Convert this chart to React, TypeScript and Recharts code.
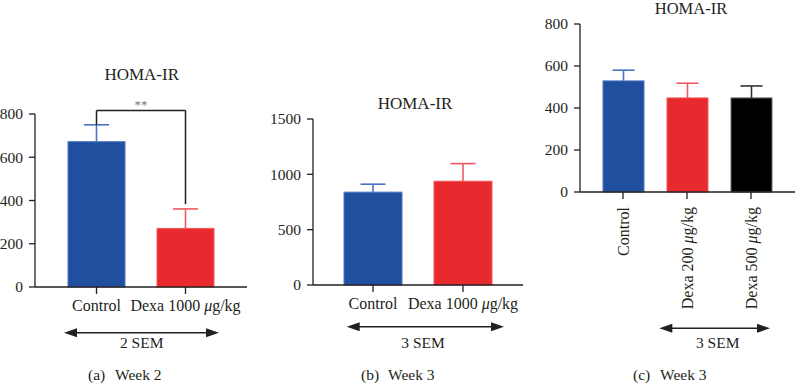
import React from 'react';
import { BarChart, Bar, XAxis, YAxis, ReferenceLine } from 'recharts';

const FONT = '"Liberation Serif", "Times New Roman", serif';

// ---- data ----
const weekTwoGroups = ['Control', 'Dexa 1000 μg/kg'];
const weekTwoMeans = [672, 271];
const weekTwoSem = [78, 90];
const weekTwoTicks = [0, 200, 400, 600, 800];

const weekThreeGroups = ['Control', 'Dexa 1000 μg/kg'];
const weekThreeMeans = [839, 938];
const weekThreeSem = [72, 159];
const weekThreeTicks = [0, 500, 1000, 1500];

const doseGroups = ['Control', 'Dexa 200 μg/kg', 'Dexa 500 μg/kg'];
const doseMeans = [529, 448, 448];
const doseSem = [51, 70, 57];
const doseTicks = [0, 200, 400, 600, 800];

const titleText = 'HOMA-IR';
const captions = [
  { tag: '(a)', text: 'Week 2' },
  { tag: '(b)', text: 'Week 3' },
  { tag: '(c)', text: 'Week 3' },
];
const semLabels = ['2 SEM', '3 SEM', '3 SEM'];

const significance = { from: 'Control', to: 'Dexa 1000 μg/kg', level: 816, leftEnd: 750, rightEnd: 383, label: '**' };

// ---- styles ----
const fills = ['#214f9f', '#e8292d', '#000000'];
const edges = ['#4f76c2', '#f05a5e', '#6a6a6a'];
const errColors = ['#4a74c4', '#ef5a5e', '#333333'];
const INK = '#231f20';

const rows = (groups: string[], means: number[], sem: number[]) =>
  groups.map((g, i) => ({ group: g, mean: means[i], sem: sem[i] }));

const weekTwoRows = rows(weekTwoGroups, weekTwoMeans, weekTwoSem);
const weekThreeRows = rows(weekThreeGroups, weekThreeMeans, weekThreeSem);
const doseRows = rows(doseGroups, doseMeans, doseSem);

function makeShape(capHalf: number) {
  return (props: any) => {
    const { x, y, width, height, index, payload } = props;
    const pxPerUnit = height / payload.mean;
    const top = y - payload.sem * pxPerUnit;
    const cx = x + width / 2;
    return (
      <g>
        <rect x={x} y={y} width={width} height={height} fill={fills[index]} stroke={edges[index]} strokeWidth={1} />
        <line x1={cx} y1={y} x2={cx} y2={top} stroke={errColors[index]} strokeWidth={1.6} />
        <line x1={cx - capHalf} y1={top} x2={cx + capHalf} y2={top} stroke={errColors[index]} strokeWidth={1.6} />
      </g>
    );
  };
}

function label(s: string) {
  const i = s.indexOf('μ');
  if (i < 0) return s;
  return (
    <>
      {s.slice(0, i)}
      <tspan fontStyle="italic">μ</tspan>
      {s.slice(i + 1)}
    </>
  );
}

const FlatTick = (props: any) => {
  const { x, y, payload } = props;
  return (
    <text x={x} y={y} dy="0.71em" textAnchor="middle" fontFamily={FONT} fontSize={16} fill={INK}>
      {label(payload.value)}
    </text>
  );
};

const RotTick = (props: any) => {
  const { x, y, payload } = props;
  return (
    <text x={x} y={y} dy="0.35em" textAnchor="end" transform={`rotate(-90 ${x} ${y})`} fontFamily={FONT} fontSize={16} fill={INK}>
      {label(payload.value)}
    </text>
  );
};

const ValueTick = (props: any) => {
  const { x, y, payload } = props;
  return (
    <text x={x} y={y} dy="0.35em" textAnchor="end" fontFamily={FONT} fontSize={15.5} fill={INK}>
      {payload.value}
    </text>
  );
};

const axisStroke = { stroke: INK, strokeWidth: 1.3 };

function Arrow({ x1, x2, y }: { x1: number; x2: number; y: number }) {
  const L = 13;
  const H = 4.5;
  return (
    <g>
      <line x1={x1 + L - 1} y1={y} x2={x2 - L + 1} y2={y} stroke={INK} strokeWidth={1.5} />
      <polygon points={`${x1},${y} ${x1 + L},${y - H} ${x1 + L},${y + H}`} fill={INK} />
      <polygon points={`${x2},${y} ${x2 - L},${y - H} ${x2 - L},${y + H}`} fill={INK} />
    </g>
  );
}

export default function App() {
  return (
    <div style={{ position: 'absolute', left: 0, top: 0, width: 795, height: 383, background: '#fff', overflow: 'hidden' }}>
      {/* Panel (a) */}
      <div style={{ position: 'absolute', left: 0, top: 0 }}>
        <BarChart width={260} height={320} data={weekTwoRows} margin={{ top: 114, right: 13, bottom: 0, left: 0 }}>
          <YAxis width={35} domain={[0, 800]} ticks={weekTwoTicks} interval={0} tickSize={6} tickMargin={6} tick={<ValueTick />} axisLine={axisStroke} tickLine={axisStroke} />
          <XAxis dataKey="group" height={33} padding={{ left: 17, right: 17 }} interval={0} tickSize={7} tickMargin={6} tick={<FlatTick />} axisLine={axisStroke} tickLine={axisStroke} />
          <Bar dataKey="mean" barSize={57} shape={makeShape(12.5)} isAnimationActive={false} />
          <ReferenceLine ifOverflow="visible" stroke={INK} strokeWidth={1.5}
            segment={[{ x: significance.from, y: significance.level }, { x: significance.to, y: significance.level }]}
            label={{ value: significance.label, position: 'top', fill: '#777', fontSize: 13, fontFamily: FONT, offset: 2 }} />
          <ReferenceLine ifOverflow="visible" stroke={INK} strokeWidth={1.5}
            segment={[{ x: significance.from, y: significance.level }, { x: significance.from, y: significance.leftEnd }]} />
          <ReferenceLine ifOverflow="visible" stroke={INK} strokeWidth={1.5}
            segment={[{ x: significance.to, y: significance.level }, { x: significance.to, y: significance.rightEnd }]} />
        </BarChart>
      </div>

      {/* Panel (b) */}
      <div style={{ position: 'absolute', left: 260, top: 0 }}>
        <BarChart width={265} height={320} data={weekThreeRows} margin={{ top: 119, right: 2, bottom: 0, left: 0 }}>
          <YAxis width={53} domain={[0, 1500]} ticks={weekThreeTicks} interval={0} tickSize={6} tickMargin={6} tick={<ValueTick />} axisLine={axisStroke} tickLine={axisStroke} />
          <XAxis dataKey="group" height={35} padding={{ left: 15, right: 15 }} interval={0} tickSize={7} tickMargin={6} tick={<FlatTick />} axisLine={axisStroke} tickLine={axisStroke} />
          <Bar dataKey="mean" barSize={58} shape={makeShape(12.5)} isAnimationActive={false} />
        </BarChart>
      </div>

      {/* Panel (c) */}
      <div style={{ position: 'absolute', left: 520, top: 0 }}>
        <BarChart width={275} height={330} data={doseRows} margin={{ top: 24, right: 0, bottom: 0, left: 0 }}>
          <YAxis width={60} domain={[0, 800]} ticks={doseTicks} interval={0} tickSize={6} tickMargin={6} tick={<ValueTick />} axisLine={axisStroke} tickLine={axisStroke} />
          <XAxis dataKey="group" height={138} padding={{ left: 11, right: 12 }} interval={0} tickSize={7} tickMargin={8} tick={<RotTick />} axisLine={axisStroke} tickLine={axisStroke} />
          <Bar dataKey="mean" barSize={41} shape={makeShape(11)} isAnimationActive={false} />
        </BarChart>
      </div>

      {/* Annotations */}
      <svg width={795} height={383} style={{ position: 'absolute', left: 0, top: 0, pointerEvents: 'none' }} fontFamily={FONT}>
        <text x={141.7} y={79.5} textAnchor="middle" fontSize={17} fill={INK}>{titleText}</text>
        <text x={415} y={108.8} textAnchor="middle" fontSize={17} fill={INK}>{titleText}</text>
        <text x={691} y={14} textAnchor="middle" fontSize={16.5} fill={INK}>{titleText}</text>

        <Arrow x1={64} x2={219} y={332.7} />
        <Arrow x1={346.7} x2={504} y={326.7} />
        <Arrow x1={659.3} x2={770} y={328.3} />

        <text x={141.7} y={348.3} textAnchor="middle" fontSize={15.5} fill={INK}>{semLabels[0]}</text>
        <text x={423} y={348.3} textAnchor="middle" fontSize={15.5} fill={INK}>{semLabels[1]}</text>
        <text x={717.7} y={348.3} textAnchor="middle" fontSize={15.5} fill={INK}>{semLabels[2]}</text>

        {[88, 361, 633].map((x0, i) => (
          <g key={i}>
            <text x={x0} y={380} fontSize={15.5} fill={INK}>{captions[i].tag}</text>
            <text x={x0 + 27} y={380} fontSize={15.5} fill={INK}>{captions[i].text}</text>
          </g>
        ))}
      </svg>
    </div>
  );
}
